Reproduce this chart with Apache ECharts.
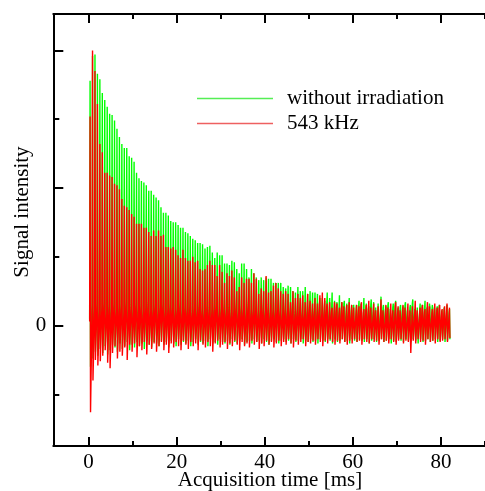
<!DOCTYPE html>
<html>
<head>
<meta charset="utf-8">
<title>Echo train</title>
<script src="https://cdn.jsdelivr.net/npm/echarts@6/dist/echarts.min.js"></script>
<style>
  html, body { margin: 0; padding: 0; background: #fff; }
  #main { width: 485px; height: 491px; }
</style>
</head>
<body>
<div id="main"></div>
<script>
// echo train: one entry per echo, first echo at echoT0, spacing echoStep (ms)
var echoT0 = 0.35;
var echoStep = 0.555;
var seriesNames = ['without irradiation', '543 kHz'];
var xMajorTicks = [0, 20, 40, 60, 80];
var xMinorTicks = [10, 30, 50, 70, 90];
var yMajorTicks = [0, 1, 2];
var yMinorTicks = [-0.5, 0.5, 1.5];
var yTickLabels = [0];

// echo maxima (intensity, one major y tick = 1)
var greenPeak = [1.78,1.96,1.97,1.83,1.79,1.69,1.64,1.59,1.54,1.53,
  1.49,1.43,1.37,1.32,1.29,1.29,1.23,1.22,1.19,1.11,
  1.07,1.05,1.04,1.02,0.98,0.98,0.95,0.93,0.91,0.86,
  0.82,0.82,0.80,0.76,0.75,0.75,0.73,0.71,0.71,0.68,
  0.67,0.65,0.63,0.62,0.60,0.60,0.59,0.56,0.57,0.58,
  0.53,0.49,0.53,0.51,0.51,0.45,0.45,0.44,0.47,0.46,
  0.41,0.38,0.45,0.45,0.41,0.35,0.41,0.38,0.35,0.33,
  0.35,0.33,0.35,0.34,0.34,0.31,0.31,0.31,0.31,0.28,
  0.27,0.29,0.28,0.25,0.24,0.28,0.25,0.25,0.28,0.23,
  0.25,0.24,0.24,0.23,0.20,0.20,0.18,0.24,0.20,0.24,
  0.18,0.17,0.22,0.17,0.18,0.16,0.20,0.15,0.16,0.15,
  0.18,0.15,0.20,0.16,0.14,0.19,0.17,0.13,0.16,0.21,
  0.15,0.14,0.17,0.12,0.16,0.18,0.13,0.15,0.14,0.17,
  0.12,0.15,0.19,0.13,0.14,0.16,0.12,0.18,0.14,0.13,
  0.15,0.11,0.14,0.16,0.12,0.13,0.15,0.12];

var redPeak = [1.52,2.00,1.85,1.61,1.32,1.26,1.11,1.11,1.09,1.08,
  1.03,1.02,0.99,0.92,0.87,0.86,0.84,0.81,0.79,0.74,
  0.74,0.74,0.71,0.71,0.68,0.65,0.69,0.65,0.69,0.65,
  0.66,0.57,0.57,0.56,0.57,0.55,0.51,0.49,0.55,0.49,
  0.47,0.47,0.50,0.46,0.47,0.41,0.40,0.41,0.44,0.47,
  0.44,0.44,0.36,0.44,0.39,0.31,0.38,0.36,0.40,0.35,
  0.25,0.28,0.35,0.31,0.34,0.34,0.31,0.38,0.34,0.23,
  0.27,0.25,0.36,0.24,0.25,0.29,0.31,0.27,0.25,0.23,
  0.25,0.23,0.17,0.25,0.20,0.23,0.20,0.22,0.17,0.23,
  0.18,0.16,0.20,0.16,0.22,0.24,0.20,0.16,0.17,0.13,
  0.17,0.16,0.13,0.17,0.13,0.15,0.17,0.15,0.13,0.15,
  0.14,0.17,0.12,0.15,0.18,0.13,0.16,0.11,0.14,0.19,
  0.12,0.15,0.13,0.16,0.12,0.17,0.14,0.11,0.15,0.13,
  0.16,0.12,0.14,0.18,0.11,0.13,0.15,0.12,0.17,0.14,
  0.12,0.16,0.13,0.15,0.12,0.14,0.16,0.13];

// noise minimum right after each echo
var greenLow = [-0.30,-0.24,-0.19,-0.22,-0.17,-0.20,-0.15,-0.21,-0.18,-0.14,
  -0.16,-0.19,-0.13,-0.17,-0.15,-0.12,-0.18,-0.14,-0.16,-0.12,
  -0.15,-0.13,-0.17,-0.11,-0.14,-0.16,-0.12,-0.13,-0.15,-0.11,
  -0.14,-0.12,-0.16,-0.11,-0.13,-0.15,-0.10,-0.14,-0.12,-0.13,
  -0.11,-0.15,-0.12,-0.10,-0.14,-0.12,-0.13,-0.11,-0.15,-0.10,
  -0.13,-0.12,-0.14,-0.10,-0.12,-0.13,-0.11,-0.14,-0.10,-0.12,
  -0.13,-0.11,-0.10,-0.14,-0.12,-0.11,-0.13,-0.10,-0.12,-0.11,
  -0.13,-0.10,-0.12,-0.14,-0.11,-0.10,-0.12,-0.13,-0.11,-0.10,
  -0.12,-0.11,-0.13,-0.10,-0.12,-0.11,-0.10,-0.13,-0.11,-0.12,
  -0.10,-0.12,-0.11,-0.13,-0.10,-0.11,-0.12,-0.10,-0.11,-0.13,
  -0.10,-0.12,-0.11,-0.10,-0.12,-0.11,-0.13,-0.10,-0.11,-0.12,
  -0.10,-0.11,-0.12,-0.10,-0.13,-0.11,-0.10,-0.12,-0.11,-0.10,
  -0.12,-0.11,-0.10,-0.13,-0.11,-0.12,-0.10,-0.11,-0.12,-0.10,
  -0.11,-0.12,-0.10,-0.11,-0.13,-0.10,-0.12,-0.11,-0.10,-0.12,
  -0.11,-0.10,-0.12,-0.11,-0.10,-0.12,-0.11,-0.10];

var redLow = [-0.63,-0.40,-0.25,-0.29,-0.26,-0.22,-0.18,-0.27,-0.31,-0.20,
  -0.15,-0.24,-0.19,-0.22,-0.16,-0.25,-0.14,-0.19,-0.13,-0.23,
  -0.15,-0.18,-0.12,-0.21,-0.14,-0.17,-0.13,-0.19,-0.15,-0.12,
  -0.18,-0.14,-0.20,-0.13,-0.16,-0.12,-0.15,-0.18,-0.11,-0.14,
  -0.17,-0.12,-0.15,-0.13,-0.18,-0.11,-0.14,-0.16,-0.12,-0.15,
  -0.19,-0.13,-0.11,-0.16,-0.14,-0.12,-0.17,-0.13,-0.15,-0.11,
  -0.14,-0.18,-0.12,-0.15,-0.13,-0.16,-0.11,-0.14,-0.12,-0.17,
  -0.13,-0.15,-0.11,-0.14,-0.12,-0.16,-0.13,-0.11,-0.15,-0.12,
  -0.14,-0.10,-0.13,-0.16,-0.11,-0.14,-0.12,-0.10,-0.15,-0.12,
  -0.13,-0.11,-0.14,-0.10,-0.12,-0.15,-0.11,-0.13,-0.10,-0.12,
  -0.14,-0.11,-0.13,-0.10,-0.12,-0.14,-0.11,-0.13,-0.10,-0.12,
  -0.11,-0.14,-0.10,-0.12,-0.13,-0.10,-0.12,-0.11,-0.14,-0.10,
  -0.12,-0.11,-0.13,-0.10,-0.12,-0.14,-0.11,-0.10,-0.13,-0.11,
  -0.12,-0.20,-0.11,-0.13,-0.10,-0.12,-0.11,-0.14,-0.10,-0.12,
  -0.11,-0.13,-0.10,-0.12,-0.11,-0.10,-0.12,-0.09];

// noise maximum just before each echo
var greenTop = [0.05,0.16,0.13,0.17,0.12,0.15,0.18,0.11,0.16,0.13,
  0.17,0.12,0.15,0.16,0.11,0.18,0.13,0.15,0.12,0.17,
  0.13,0.16,0.11,0.15,0.17,0.12,0.13,0.16,0.11,0.15,
  0.17,0.12,0.13,0.16,0.15,0.11,0.13,0.17,0.12,0.15,
  0.13,0.16,0.11,0.15,0.12,0.17,0.13,0.11,0.16,0.13,
  0.12,0.15,0.17,0.11,0.13,0.16,0.12,0.15,0.11,0.13,
  0.16,0.12,0.15,0.13,0.11,0.17,0.12,0.13,0.15,0.11,
  0.13,0.16,0.12,0.15,0.11,0.13,0.12,0.16,0.13,0.11,
  0.15,0.12,0.13,0.16,0.11,0.13,0.15,0.12,0.11,0.13,
  0.16,0.12,0.13,0.11,0.15,0.12,0.13,0.16,0.11,0.13,
  0.12,0.15,0.11,0.13,0.16,0.12,0.13,0.11,0.15,0.12,
  0.13,0.16,0.11,0.13,0.12,0.15,0.11,0.13,0.16,0.12,
  0.13,0.11,0.15,0.12,0.13,0.16,0.11,0.13,0.12,0.15,
  0.11,0.13,0.16,0.12,0.13,0.11,0.15,0.12,0.13,0.16,
  0.11,0.13,0.12,0.15,0.11,0.13,0.12,0.09];

var redTop = [0.03,0.14,0.11,0.15,0.10,0.13,0.16,0.09,0.14,0.11,
  0.15,0.10,0.13,0.14,0.09,0.16,0.11,0.13,0.10,0.15,
  0.11,0.14,0.09,0.13,0.15,0.10,0.11,0.14,0.09,0.13,
  0.15,0.10,0.11,0.14,0.13,0.09,0.11,0.15,0.10,0.13,
  0.11,0.14,0.09,0.13,0.10,0.15,0.11,0.09,0.14,0.11,
  0.10,0.13,0.15,0.09,0.11,0.14,0.10,0.13,0.09,0.11,
  0.14,0.10,0.13,0.11,0.09,0.15,0.10,0.11,0.13,0.09,
  0.11,0.14,0.10,0.13,0.09,0.11,0.10,0.14,0.11,0.09,
  0.13,0.10,0.11,0.14,0.09,0.11,0.13,0.10,0.09,0.11,
  0.14,0.10,0.11,0.09,0.13,0.10,0.11,0.14,0.09,0.11,
  0.10,0.13,0.09,0.11,0.14,0.10,0.11,0.09,0.13,0.10,
  0.11,0.14,0.09,0.11,0.10,0.13,0.09,0.11,0.14,0.10,
  0.11,0.09,0.13,0.10,0.11,0.14,0.09,0.11,0.10,0.13,
  0.09,0.11,0.14,0.10,0.11,0.09,0.13,0.10,0.11,0.14,
  0.09,0.11,0.10,0.13,0.09,0.11,0.10,0.07];

var FONT = 'Liberation Serif';

// noise top -> echo peak -> noise low, for every echo
function buildTrace(tops, peaks, lows) {
  var pts = [];
  for (var i = 0; i < peaks.length; i++) {
    var t = echoT0 + i * echoStep;
    pts.push([t - 0.1, tops[i]]);
    pts.push([t, peaks[i]]);
    pts.push([t + 0.1, lows[i]]);
  }
  return pts;
}

function tickAxis(dim, pos, major, values, len, labelValues) {
  return {
    type: 'value',
    position: pos,
    min: dim === 'x' ? -8 : -0.876,
    max: dim === 'x' ? 90 : 2.265,
    axisLine: { show: major, onZero: false, lineStyle: { color: '#000', width: 2 } },
    axisTick: { show: true, inside: true, length: len, customValues: values,
      lineStyle: { color: '#000', width: 2 } },
    axisLabel: { show: !!labelValues, customValues: labelValues || values,
      fontFamily: FONT, fontSize: 21, color: '#000', margin: dim === 'x' ? 6 : 7 },
    splitLine: { show: false }
  };
}

var myChart = echarts.init(document.getElementById('main'));

var option = {
  animation: false,
  backgroundColor: '#fff',
  // the right border falls at the edge of the picture
  grid: { left: 53.3, right: 0, top: 14, bottom: 45, containLabel: false },
  xAxis: [
    tickAxis('x', 'bottom', true, xMajorTicks, 9, xMajorTicks),
    tickAxis('x', 'bottom', false, xMinorTicks, 5, null),
    tickAxis('x', 'top', true, xMajorTicks, 9, null),
    tickAxis('x', 'top', false, xMinorTicks, 5, null)
  ],
  yAxis: [
    tickAxis('y', 'left', true, yMajorTicks, 10, yTickLabels),
    tickAxis('y', 'left', false, yMinorTicks, 6, null)
  ],
  legend: {
    orient: 'vertical',
    left: 197,
    top: 88,
    padding: 0,
    itemWidth: 76,
    itemHeight: 1.5,
    itemGap: 4,
    icon: 'rect',
    textStyle: { fontFamily: FONT, fontSize: 21, color: '#000', padding: [0, 0, 0, 9] },
    data: [
      { name: seriesNames[0], itemStyle: { color: '#55ee55' } },
      { name: seriesNames[1], itemStyle: { color: '#ee6060' } }
    ]
  },
  graphic: [
    { type: 'text', x: 22, y: 212, rotation: Math.PI / 2,
      style: { text: 'Signal intensity', x: 0, y: 0, align: 'center', verticalAlign: 'middle',
        font: '21px "Liberation Serif"', fill: '#000' } },
    { type: 'text', x: 270, y: 480,
      style: { text: 'Acquisition time [ms]', x: 0, y: 0, align: 'center', verticalAlign: 'middle',
        font: '21px "Liberation Serif"', fill: '#000' } }
  ],
  series: [
    {
      name: seriesNames[0],
      type: 'line',
      xAxisIndex: 0, yAxisIndex: 0,
      showSymbol: false,
      color: '#00ff00',
      lineStyle: { color: '#00ff00', width: 1.4 },
      data: buildTrace(greenTop, greenPeak, greenLow)
    },
    {
      name: seriesNames[1],
      type: 'line',
      xAxisIndex: 0, yAxisIndex: 0,
      showSymbol: false,
      color: '#ff0000',
      lineStyle: { color: '#ff0000', width: 1.4 },
      data: buildTrace(redTop, redPeak, redLow)
    }
  ]
};

myChart.setOption(option);
</script>
</body>
</html>
